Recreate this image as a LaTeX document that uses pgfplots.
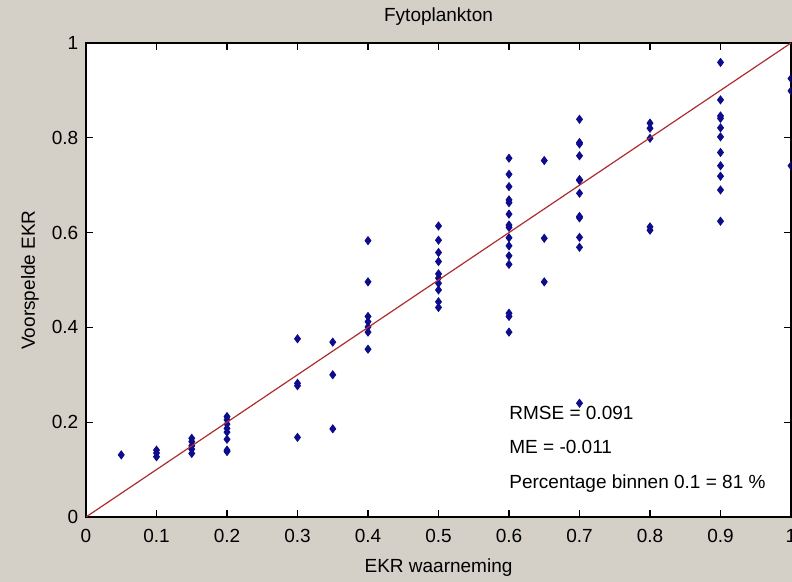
\documentclass[border=0pt]{standalone}
\usepackage{fontspec}
\setmainfont{Liberation Sans}
\usepackage{pgfplots}
\usepackage{pgfplotstable}
\pgfplotsset{compat=1.18}

\definecolor{figgray}{RGB}{212,208,200}
\definecolor{markblue}{RGB}{12,12,140}
\definecolor{fitred}{RGB}{175,45,45}

% observed vs predicted EKR for phytoplankton
\pgfplotstableread{
obs   pred
0.05  0.131
0.10  0.141
0.10  0.135
0.10  0.127
0.15  0.166
0.15  0.159
0.15  0.150
0.15  0.143
0.15  0.134
0.20  0.212
0.20  0.205
0.20  0.196
0.20  0.187
0.20  0.179
0.20  0.164
0.20  0.141
0.20  0.138
0.30  0.376
0.30  0.282
0.30  0.277
0.30  0.168
0.35  0.369
0.35  0.300
0.35  0.186
0.40  0.583
0.40  0.496
0.40  0.423
0.40  0.412
0.40  0.401
0.40  0.390
0.40  0.354
0.50  0.614
0.50  0.584
0.50  0.558
0.50  0.539
0.50  0.513
0.50  0.504
0.50  0.493
0.50  0.479
0.50  0.454
0.50  0.442
0.60  0.757
0.60  0.723
0.60  0.697
0.60  0.669
0.60  0.663
0.60  0.639
0.60  0.616
0.60  0.611
0.60  0.589
0.60  0.572
0.60  0.551
0.60  0.533
0.60  0.430
0.60  0.423
0.60  0.390
0.65  0.752
0.65  0.588
0.65  0.496
0.70  0.839
0.70  0.790
0.70  0.787
0.70  0.762
0.70  0.712
0.70  0.710
0.70  0.683
0.70  0.634
0.70  0.631
0.70  0.590
0.70  0.569
0.70  0.240
0.80  0.831
0.80  0.820
0.80  0.799
0.80  0.612
0.80  0.605
0.90  0.959
0.90  0.880
0.90  0.846
0.90  0.841
0.90  0.821
0.90  0.802
0.90  0.769
0.90  0.741
0.90  0.719
0.90  0.690
0.90  0.624
1.00  0.925
1.00  0.899
1.00  0.741
}\ekrdata

\begin{document}
\fontsize{9.5}{11}\selectfont
\begin{tikzpicture}
\fill[figgray] (-43pt,-32.5pt) rectangle (353pt,258.5pt);
\useasboundingbox (-43pt,-32.5pt) rectangle (353pt,258.5pt);
\begin{axis}[
  at={(0,0)}, anchor=south west,
  scale only axis, width=352.5pt, height=237pt,
  xmin=0, xmax=1, ymin=0, ymax=1,
  axis background/.style={fill=white},
  xtick={0,0.1,0.2,0.3,0.4,0.5,0.6,0.7,0.8,0.9,1},
  ytick={0,0.2,0.4,0.6,0.8,1},
  /pgf/number format/assume math mode=true,
  xticklabel={\pgfmathprintnumber{\tick}},
  yticklabel={\pgfmathprintnumber{\tick}},
  tick label style={font=\fontsize{9.5}{11}\selectfont},
  xticklabel style={anchor=base, yshift=-13pt},
  yticklabel style={anchor=east, xshift=-0.5pt},
  tick align=inside, major tick length=3.5pt,
  axis line style={black, line width=0.8pt},
  every tick/.style={black, line width=0.6pt},
  clip marker paths=true,
]
\addplot[only marks, mark=diamond*, mark size=2pt, color=markblue] table[x=obs, y=pred] {\ekrdata};
\addplot[fitred, line width=0.6pt] coordinates {(0,0) (1,1)};
\node[anchor=base west, inner sep=0pt] at (axis cs:0.6,0.205) {RMSE = 0.091};
\node[anchor=base west, inner sep=0pt] at (axis cs:0.6,0.134) {ME = -0.011};
\node[anchor=base west, inner sep=0pt] at (axis cs:0.6,0.0605) {Percentage binnen 0.1 = 81 \%};
\end{axis}
\node[anchor=base] at (176.25pt,247.5pt) {Fytoplankton};
\node[anchor=base] at (176.25pt,-28pt) {EKR waarneming};
\node[rotate=90, anchor=center] at (-28pt,118.5pt) {Voorspelde EKR};
\end{tikzpicture}
\end{document}
